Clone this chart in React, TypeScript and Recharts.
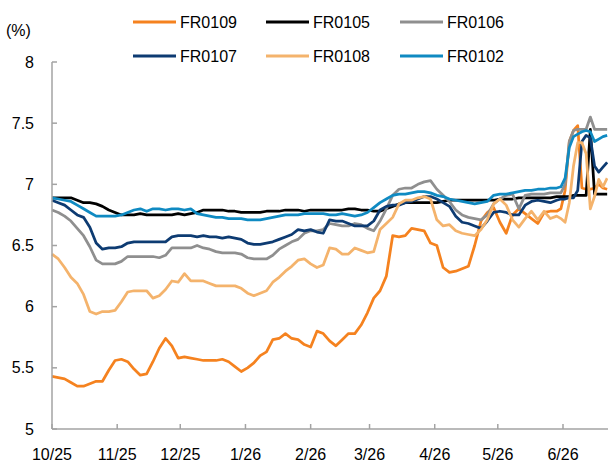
import { CartesianGrid, Line, LineChart, XAxis, YAxis } from "recharts";

// days counted from 1 Oct 2025
const days = [
    0, 3, 6, 9, 12, 15, 18, 21, 24, 27,
    30, 33, 36, 39, 42, 45, 48, 51, 54, 57,
    60, 63, 66, 69, 72, 75, 78, 81, 84, 87,
    90, 93, 96, 99, 102, 105, 108, 111, 114, 117,
    120, 123, 126, 129, 132, 135, 138, 141, 144, 147,
    150, 153, 156, 159, 162, 165, 168, 171, 174, 177,
    180, 183, 186, 189, 192, 195, 198, 201, 204, 207,
    210, 213, 216, 219, 222, 225, 228, 231, 234, 237,
    240,
    242, 244, 246, 248, 250, 252, 254, 256, 258, 260, 262, 264,
];

const fr0109 = [
    5.43, 5.42, 5.41, 5.38, 5.35, 5.35, 5.37, 5.39, 5.39, 5.48,
    5.56, 5.57, 5.55, 5.49, 5.44, 5.45, 5.55, 5.66, 5.74, 5.68,
    5.58, 5.59, 5.58, 5.57, 5.56, 5.56, 5.56, 5.57, 5.55, 5.51,
    5.47, 5.50, 5.54, 5.60, 5.63, 5.73, 5.74, 5.78, 5.74, 5.73,
    5.69, 5.67, 5.80, 5.78, 5.72, 5.68, 5.73, 5.78, 5.78, 5.85,
    5.95, 6.07, 6.13, 6.25, 6.58, 6.57, 6.58, 6.64, 6.63, 6.62,
    6.52, 6.50, 6.32, 6.28, 6.29, 6.31, 6.33, 6.50, 6.70, 6.77,
    6.81, 6.69, 6.60, 6.75, 6.80, 6.76, 6.72, 6.68, 6.77, 6.78,
    6.78,
    6.80, 6.95, 7.35, 7.44, 7.48, 6.97, 6.96, 6.96, 6.97, 7.00, 6.97, 6.96,
];

const fr0105 = [
    6.89, 6.89, 6.89, 6.89, 6.87, 6.85, 6.85, 6.84, 6.82, 6.79,
    6.77, 6.75, 6.75, 6.75, 6.76, 6.75, 6.75, 6.75, 6.75, 6.75,
    6.76, 6.75, 6.76, 6.77, 6.79, 6.79, 6.79, 6.79, 6.78, 6.78,
    6.77, 6.77, 6.77, 6.77, 6.78, 6.78, 6.78, 6.79, 6.79, 6.79,
    6.78, 6.79, 6.79, 6.79, 6.79, 6.79, 6.79, 6.80, 6.80, 6.79,
    6.79, 6.78, 6.78, 6.80, 6.82, 6.84, 6.85, 6.85, 6.85, 6.85,
    6.85, 6.85, 6.86, 6.87, 6.87, 6.87, 6.87, 6.87, 6.87, 6.87,
    6.87, 6.88, 6.88, 6.88, 6.89, 6.89, 6.89, 6.89, 6.89, 6.89,
    6.90,
    6.90, 6.90, 6.90, 6.91, 6.91, 6.91, 6.91, 7.45, 6.92, 6.92, 6.92, 6.92,
];

const fr0106 = [
    6.79, 6.77, 6.74, 6.70, 6.64, 6.58, 6.49, 6.38, 6.35, 6.35,
    6.35, 6.37, 6.41, 6.41, 6.41, 6.41, 6.41, 6.40, 6.42, 6.48,
    6.48, 6.48, 6.48, 6.50, 6.48, 6.47, 6.45, 6.44, 6.44, 6.44,
    6.43, 6.40, 6.39, 6.39, 6.39, 6.42, 6.47, 6.50, 6.53, 6.55,
    6.60, 6.62, 6.62, 6.63, 6.68, 6.67, 6.66, 6.66, 6.68, 6.67,
    6.64, 6.62, 6.70, 6.80, 6.91, 6.96, 6.97, 6.97, 7.00, 7.02,
    7.03, 6.96, 6.91, 6.86, 6.79, 6.75, 6.73, 6.72, 6.71, 6.75,
    6.84, 6.88, 6.91, 6.92, 6.80, 6.91, 6.92, 6.92, 6.92, 6.93,
    6.93,
    6.93, 7.00, 7.35, 7.44, 7.45, 7.45, 7.45, 7.55, 7.45, 7.45, 7.45, 7.45,
];

const fr0107 = [
    6.87, 6.85, 6.83, 6.79, 6.75, 6.73, 6.65, 6.52, 6.47, 6.48,
    6.48, 6.49, 6.52, 6.53, 6.53, 6.53, 6.53, 6.53, 6.53, 6.57,
    6.58, 6.58, 6.58, 6.57, 6.58, 6.57, 6.57, 6.56, 6.57, 6.56,
    6.55, 6.52, 6.51, 6.51, 6.52, 6.53, 6.55, 6.57, 6.59, 6.63,
    6.62, 6.63, 6.61, 6.60, 6.71, 6.70, 6.70, 6.68, 6.66, 6.66,
    6.66, 6.70, 6.79, 6.82, 6.83, 6.83, 6.85, 6.86, 6.88, 6.90,
    6.90, 6.88, 6.85, 6.82, 6.74, 6.69, 6.68, 6.66, 6.64, 6.70,
    6.77, 6.78, 6.77, 6.75, 6.75, 6.83, 6.86, 6.87, 6.86, 6.85,
    6.87,
    6.88, 6.88, 6.89, 6.89, 6.95, 7.35, 7.40, 7.38, 7.15, 7.10, 7.14, 7.18,
];

const fr0108 = [
    6.43, 6.39, 6.32, 6.24, 6.19, 6.10, 5.96, 5.94, 5.96, 5.96,
    5.97, 6.04, 6.12, 6.13, 6.13, 6.13, 6.07, 6.09, 6.14, 6.21,
    6.20, 6.27, 6.21, 6.21, 6.21, 6.19, 6.17, 6.17, 6.17, 6.17,
    6.15, 6.11, 6.09, 6.11, 6.13, 6.20, 6.24, 6.29, 6.33, 6.38,
    6.39, 6.35, 6.32, 6.34, 6.48, 6.47, 6.43, 6.43, 6.48, 6.46,
    6.44, 6.45, 6.63, 6.68, 6.73, 6.84, 6.87, 6.87, 6.89, 6.90,
    6.88, 6.71, 6.66, 6.67, 6.62, 6.60, 6.59, 6.58, 6.63, 6.71,
    6.84, 6.88, 6.83, 6.71, 6.65, 6.72, 6.78, 6.71, 6.78, 6.72,
    6.74,
    6.72, 6.69, 6.85, 7.15, 7.34, 7.34, 7.25, 6.80, 6.90, 7.04, 6.98, 7.05,
];

const fr0102 = [
    6.89, 6.88, 6.87, 6.86, 6.83, 6.80, 6.77, 6.74, 6.74, 6.74,
    6.74, 6.75, 6.77, 6.79, 6.80, 6.78, 6.80, 6.80, 6.79, 6.80,
    6.80, 6.79, 6.80, 6.76, 6.75, 6.74, 6.73, 6.73, 6.72, 6.72,
    6.72, 6.71, 6.71, 6.71, 6.72, 6.73, 6.74, 6.75, 6.75, 6.75,
    6.76, 6.76, 6.76, 6.76, 6.75, 6.75, 6.76, 6.75, 6.74, 6.75,
    6.77, 6.81, 6.85, 6.88, 6.91, 6.92, 6.92, 6.93, 6.94, 6.94,
    6.93, 6.91, 6.90, 6.88, 6.87, 6.86, 6.85, 6.84, 6.85, 6.86,
    6.91, 6.92, 6.92, 6.93, 6.94, 6.95, 6.95, 6.96, 6.96, 6.97,
    6.97,
    6.98, 7.05, 7.30, 7.39, 7.41, 7.43, 7.44, 7.43, 7.35, 7.37, 7.39, 7.40,
];

const monthTicks = [0, 31, 61, 92, 123, 151, 182, 212, 243];
const monthLabels = ["10/25", "11/25", "12/25", "1/26", "2/26", "3/26", "4/26", "5/26", "6/26"];
const yTicks = [5, 5.5, 6, 6.5, 7, 7.5, 8];

const series = [
    { key: "FR0109", values: fr0109, color: "#f5821f" },
    { key: "FR0105", values: fr0105, color: "#000000" },
    { key: "FR0106", values: fr0106, color: "#8f8f8f" },
    { key: "FR0107", values: fr0107, color: "#0d3b72" },
    { key: "FR0108", values: fr0108, color: "#f4b36c" },
    { key: "FR0102", values: fr0102, color: "#0f8ac2" },
];

const data = days.map((d, i) => {
    const row: Record<string, number> = { day: d };
    series.forEach((s) => (row[s.key] = s.values[i]));
    return row;
});

const FONT = "'Liberation Sans', Arial, sans-serif";
const AXIS = "#a3a3a3";

const XTick = ({ x, y, payload }: any) => {
    const idx = monthTicks.indexOf(payload.value);
    return (
        <g>
            <line x1={x} x2={x} y1={y} y2={y - 5} stroke={AXIS} strokeWidth={1.5} />
            <text x={x} y={y + 25} textAnchor="middle" dominantBaseline="central" fontSize={16} fontFamily={FONT} fill="#000">
                {monthLabels[idx]}
            </text>
        </g>
    );
};

const YTick = ({ x, y, payload }: any) => (
    <g>
        <line x1={x} x2={x + 5} y1={y} y2={y} stroke={AXIS} strokeWidth={1.5} />
        <text x={x - 18} y={y} textAnchor="end" dominantBaseline="central" fontSize={16} fontFamily={FONT} fill="#000">
            {String(payload.value)}
        </text>
    </g>
);

// legend slots: [line start x, row y]
const legendPos = [
    [133, 22], [266, 22], [400, 22],
    [133, 56], [266, 56], [400, 56],
];

export default function App() {
    return (
        <div style={{ position: "absolute", left: 0, top: 0, width: 608, height: 463, background: "#fff" }}>
            <LineChart width={608} height={463} data={data} margin={{ top: 62, right: 0, left: 0, bottom: 0 }}>
                <CartesianGrid stroke="none" />
                <XAxis
                    dataKey="day"
                    type="number"
                    domain={[0, 264.4]}
                    ticks={monthTicks}
                    interval={0}
                    height={34}
                    tickSize={0}
                    tickMargin={0}
                    tickLine={false}
                    axisLine={{ stroke: AXIS, strokeWidth: 1.5 }}
                    tick={<XTick />}
                />
                <YAxis
                    type="number"
                    domain={[5, 8]}
                    ticks={yTicks}
                    interval={0}
                    width={52}
                    tickSize={0}
                    tickMargin={0}
                    tickLine={false}
                    axisLine={{ stroke: AXIS, strokeWidth: 1.5 }}
                    tick={<YTick />}
                />
                {series.map((s) => (
                    <Line
                        key={s.key}
                        type="linear"
                        dataKey={s.key}
                        stroke={s.color}
                        strokeWidth={2.75}
                        strokeLinejoin="round"
                        dot={false}
                        isAnimationActive={false}
                    />
                ))}
            </LineChart>
            <svg width={608} height={80} style={{ position: "absolute", left: 0, top: 0, pointerEvents: "none" }}>
                <text x={6} y={30} dominantBaseline="central" fontSize={16} fontFamily={FONT} fill="#000">(%)</text>
                {series.map((s, i) => {
                    const [lx, ly] = legendPos[i];
                    return (
                        <g key={s.key}>
                            <line x1={lx} x2={lx + 43} y1={ly} y2={ly} stroke={s.color} strokeWidth={3} />
                            <text x={lx + 47} y={ly} dominantBaseline="central" fontSize={16} fontFamily={FONT} fill="#000">
                                {s.key}
                            </text>
                        </g>
                    );
                })}
            </svg>
        </div>
    );
}
